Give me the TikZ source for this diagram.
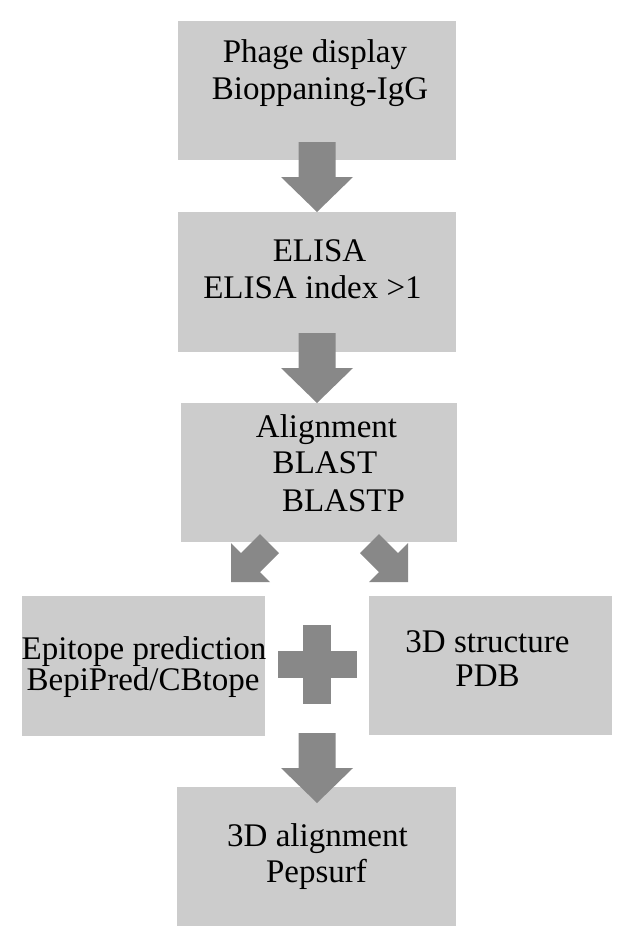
\documentclass[tikz,border=0pt]{standalone}
\usepackage{fontspec}
\setmainfont{Liberation Serif}
\definecolor{boxgray}{RGB}{204,204,204}
\definecolor{arrowgray}{RGB}{136,136,136}
\begin{document}
\begin{tikzpicture}[x=1pt,y=-1pt,
  box/.style={fill=boxgray, draw=none, inner sep=0pt},
  lbl/.style={anchor=base, inner sep=0pt, font=\fontsize{33}{37}\selectfont},
  arrowfill/.style={fill=arrowgray}]
\useasboundingbox[fill=white] (0,0) rectangle (633,947);
% boxes
\node (b1) [box, minimum width=278pt, minimum height=139pt] at (317,90.5) {};
\node (b2) [box, minimum width=278pt, minimum height=140pt] at (317,282) {};
\node (b3) [box, minimum width=276pt, minimum height=139pt] at (319,472.5) {};
\node (b4) [box, minimum width=243pt, minimum height=140pt] at (143.5,666) {};
\node (b5) [box, minimum width=243pt, minimum height=139pt] at (490.5,665.5) {};
\node (b6) [box, minimum width=279pt, minimum height=139pt] at (316.5,856.5) {};
% arrow tips
\coordinate (t1) at (317,212);
\coordinate (t2) at (317,403);
\coordinate (t3) at (317,803);
\coordinate (tl) at (231,582);
\coordinate (tr) at (408,582);
% vertical block arrows
\foreach \t in {t1,t2,t3}{
  \fill[arrowfill] (\t) -- ++(-36,-35) -- ++(17.5,0) -- ++(0,-35) -- ++(37,0) -- ++(0,35) -- ++(17.5,0) -- cycle;
}
% diagonal block arrows
\fill[arrowfill] (tl) -- ++(0,-39) -- ++(10,10) -- ++(19,-19) -- ++(19,19) -- ++(-19,19) -- ++(10,10) -- cycle;
\fill[arrowfill] (tr) -- ++(0,-39) -- ++(-10,10) -- ++(-19,-19) -- ++(-19,19) -- ++(19,19) -- ++(-10,10) -- cycle;
% plus sign
\node (plus) [inner sep=0pt, minimum size=0pt] at (317.5,664.5) {};
\fill[arrowfill] (303,625) rectangle (331,704);
\fill[arrowfill] (278,651) rectangle (357,678);
% texts
\node (l1a) [lbl] at (315,63) {Phage display};
\node (l1b) [lbl] at (320,100) {Bioppaning-IgG};
\node (l2a) [lbl] at (319.5,261) {ELISA};
\node (l2b) [lbl] at (312.5,298) {ELISA index >1};
\node (l3a) [lbl] at (326.5,437) {Alignment};
\node (l3b) [lbl] at (325,473) {BLAST};
\node (l3c) [lbl] at (343.5,511) {BLASTP};
\node (l4a) [lbl] at (144,659) {Epitope prediction};
\node (l4b) [lbl] at (143,690) {BepiPred/CBtope};
\node (l5a) [lbl] at (487.5,652) {3D structure};
\node (l5b) [lbl] at (487.5,686) {PDB};
\node (l6a) [lbl] at (317.5,846) {3D alignment};
\node (l6b) [lbl] at (316.5,882) {Pepsurf};
\end{tikzpicture}
\end{document}
